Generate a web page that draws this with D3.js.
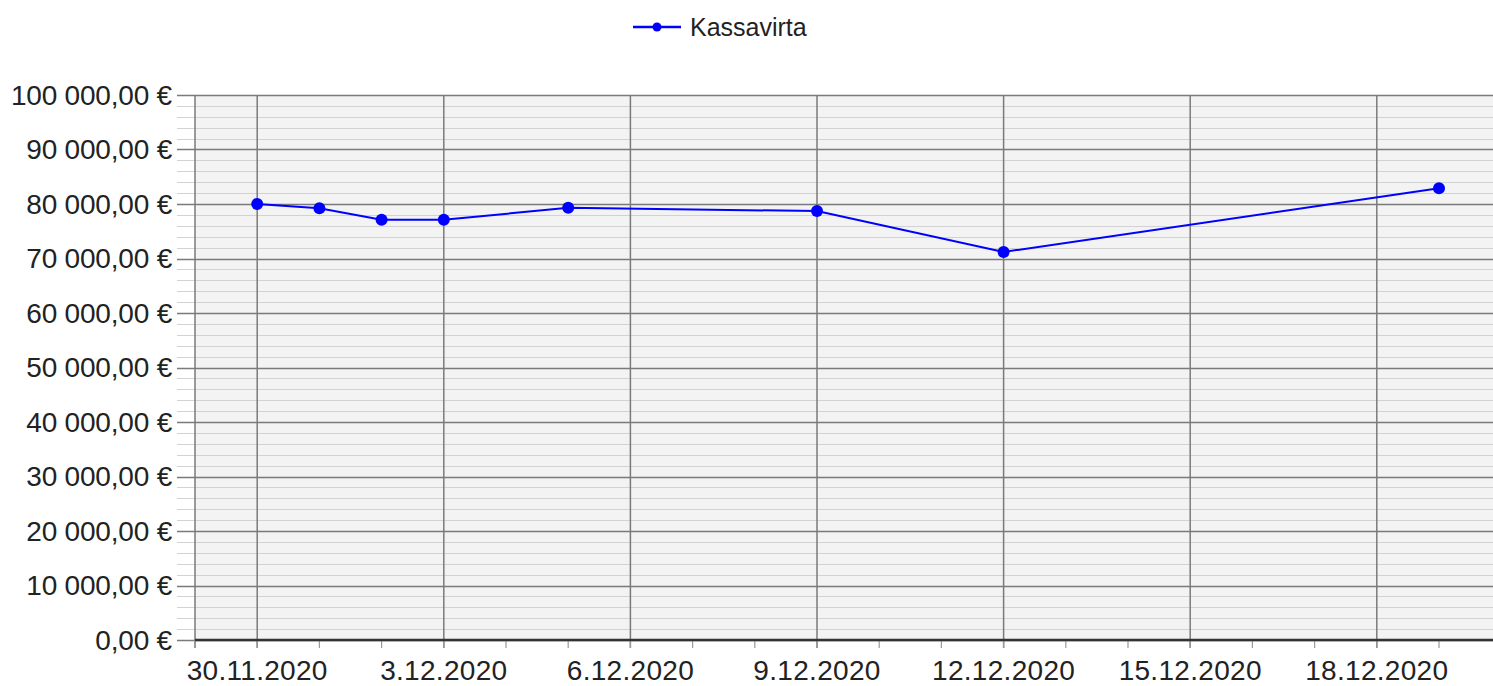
<!DOCTYPE html>
<html>
<head>
<meta charset="utf-8">
<script src="https://cdn.jsdelivr.net/npm/d3@7"></script>
<style>
  body { margin: 0; background: #fff; }
  text { font-family: "Liberation Sans", Arial, sans-serif; fill: #222; }
</style>
</head>
<body>
<div id="chart"></div>
<script>
// data
var dates = ['30.11.2020', '1.12.2020', '2.12.2020', '3.12.2020', '5.12.2020', '9.12.2020', '12.12.2020', '19.12.2020'];
var values = [80000, 79200, 77100, 77100, 79300, 78700, 71200, 82900];
var xTickLabels = ['30.11.2020', '3.12.2020', '6.12.2020', '9.12.2020', '12.12.2020', '15.12.2020', '18.12.2020'];
var yTicks = [0, 10000, 20000, 30000, 40000, 50000, 60000, 70000, 80000, 90000, 100000];
var seriesName = 'Kassavirta';

var width = 1493, height = 686;
var margin = {top: 95, right: 0, bottom: 46, left: 195};
var w = width - margin.left - margin.right,
    h = height - margin.top - margin.bottom;

var parse = d3.timeParse('%d.%m.%Y');
var fmt = d3.timeFormat('%-d.%-m.%Y');
var blue = '#0000ff';

var data = dates.map(function(d, i) { return {date: parse(d), value: values[i]}; });

var svg = d3.select('#chart').append('svg')
            .attr('width', width)
            .attr('height', height);

// one day is ~62.2px, axis starts at 29.11
var xScale = d3.scaleTime()
               .domain([parse('29.11.2020'), parse('20.12.2020')])
               .range([0, 21 * 62.2]);
var yScale = d3.scaleLinear().domain([0, 100000]).range([h, 0]);

var focus = svg.append('g')
               .attr('transform', 'translate(' + margin.left + ',' + margin.top + ')');

// plot background
focus.append('rect')
     .attr('width', w)
     .attr('height', h)
     .attr('fill', '#f3f3f3');

// minor horizontal grid (every 2000), also drawn as ticks left of the axis
var minor = d3.range(0, 100001, 2000);
focus.selectAll('.minor-y')
     .data(minor)
     .enter().append('line')
     .attr('class', 'minor-y')
     .attr('x1', -18)
     .attr('x2', w)
     .attr('y1', function(d) { return Math.round(yScale(d)) + 0.5; })
     .attr('y2', function(d) { return Math.round(yScale(d)) + 0.5; })
     .attr('stroke', '#d2d2d2')
     .attr('stroke-width', 1.2);

// major horizontal grid
focus.selectAll('.major-y')
     .data(yTicks)
     .enter().append('line')
     .attr('class', 'major-y')
     .attr('x1', -18)
     .attr('x2', w)
     .attr('y1', function(d) { return Math.round(yScale(d)) + 0.5; })
     .attr('y2', function(d) { return Math.round(yScale(d)) + 0.5; })
     .attr('stroke', '#7a7a7a')
     .attr('stroke-width', 1.5);

// vertical grid at the labelled dates
var xMajor = xTickLabels.map(parse);
focus.selectAll('.major-x')
     .data(xMajor)
     .enter().append('line')
     .attr('class', 'major-x')
     .attr('x1', function(d) { return xScale(d); })
     .attr('x2', function(d) { return xScale(d); })
     .attr('y1', 0)
     .attr('y2', h + 8)
     .attr('stroke', '#7a7a7a')
     .attr('stroke-width', 1.5);

// left axis line
focus.append('line')
     .attr('x1', 0).attr('x2', 0)
     .attr('y1', 0).attr('y2', h + 8)
     .attr('stroke', '#7a7a7a')
     .attr('stroke-width', 1.5);

// minor x ticks, one per day
focus.selectAll('.minor-x')
     .data(d3.timeDay.range(parse('29.11.2020'), parse('21.12.2020')))
     .enter().append('line')
     .attr('class', 'minor-x')
     .attr('x1', function(d) { return xScale(d); })
     .attr('x2', function(d) { return xScale(d); })
     .attr('y1', h)
     .attr('y2', h + 8)
     .attr('stroke', '#9a9a9a')
     .attr('stroke-width', 1.2);

// bottom axis line
focus.append('line')
     .attr('x1', 0).attr('x2', w)
     .attr('y1', h).attr('y2', h)
     .attr('stroke', '#333')
     .attr('stroke-width', 2.5);

// y labels
focus.selectAll('.y-label')
     .data(yTicks)
     .enter().append('text')
     .attr('class', 'y-label')
     .attr('x', -23)
     .attr('y', function(d) { return yScale(d); })
     .attr('dy', '0.35em')
     .attr('text-anchor', 'end')
     .style('font-size', '28px')
     .style('letter-spacing', '-0.2px')
     .text(function(d) {
       return d3.format(',.2f')(d).replace(/,/g, ' ').replace('.', ',') + ' €';
     });

// x labels
focus.selectAll('.x-label')
     .data(xMajor)
     .enter().append('text')
     .attr('class', 'x-label')
     .attr('x', function(d) { return xScale(d); })
     .attr('y', h + 40)
     .attr('text-anchor', 'middle')
     .style('font-size', '28px')
     .style('letter-spacing', '0.3px')
     .text(function(d) { return fmt(d); });

// the series
var line = d3.line()
             .x(function(d) { return xScale(d.date); })
             .y(function(d) { return yScale(d.value); });

focus.append('path')
     .datum(data)
     .attr('d', line)
     .attr('fill', 'none')
     .attr('stroke', blue)
     .attr('stroke-width', 2);

focus.selectAll('.dot')
     .data(data)
     .enter().append('circle')
     .attr('class', 'dot')
     .attr('cx', function(d) { return xScale(d.date); })
     .attr('cy', function(d) { return yScale(d.value); })
     .attr('r', 6)
     .attr('fill', blue);

// legend
var legend = svg.append('g')
                .attr('transform', 'translate(633,27)');
legend.append('line')
      .attr('x1', 0).attr('x2', 48)
      .attr('stroke', blue)
      .attr('stroke-width', 2.5);
legend.append('circle')
      .attr('cx', 24)
      .attr('r', 4.5)
      .attr('fill', blue);
legend.append('text')
      .attr('x', 57)
      .attr('dy', '0.35em')
      .style('font-size', '25px')
      .text(seriesName);
</script>
</body>
</html>
